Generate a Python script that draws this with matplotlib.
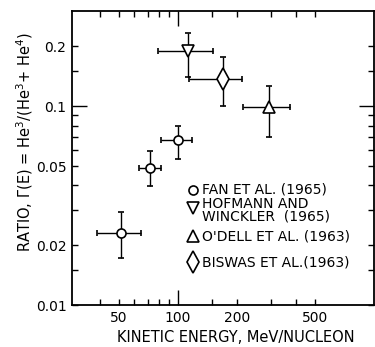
"""
He3/(He3+He4) ratio vs kinetic energy
"""

import matplotlib
matplotlib.use("Agg")
import matplotlib.pyplot as plt
from matplotlib.ticker import FixedLocator, FuncFormatter

# Fan et al. (1965) - circles
fan_e = [51, 72, 100]
fan_e_lo = [38.5, 63, 82]
fan_e_hi = [65, 82, 118]
fan_r = [0.023, 0.049, 0.068]
fan_r_lo = [0.0172, 0.0397, 0.0542]
fan_r_hi = [0.0293, 0.0594, 0.0794]

# Hofmann and Winckler (1965) - down triangle
hof_e = [112]
hof_e_lo = [79]
hof_e_hi = [151]
hof_r = [0.19]
hof_r_lo = [0.14]
hof_r_hi = [0.235]

# O'Dell et al. (1963) - up triangle
odl_e = [290]
odl_e_lo = [214]
odl_e_hi = [372]
odl_r = [0.099]
odl_r_lo = [0.07]
odl_r_hi = [0.127]

# Biswas et al. (1963) - diamond
bis_e = [170]
bis_e_lo = [114]
bis_e_hi = [212]
bis_r = [0.137]
bis_r_lo = [0.1]
bis_r_hi = [0.176]

leyenda = ["FAN ET AL. (1965)", "HOFMANN AND\nWINCKLER  (1965)",
           "O'DELL ET AL. (1963)", "BISWAS ET AL.(1963)"]

x_menores = [40, 50, 60, 70, 80, 90, 150, 200, 300, 400, 500]
x_etiquetas = [50, 200, 500]
y_menores = [0.01, 0.015, 0.02, 0.03, 0.04, 0.05, 0.06, 0.07, 0.08, 0.09, 0.15, 0.2]
y_etiquetas = [0.01, 0.02, 0.05, 0.2]

plt.rcParams['font.family'] = ['DejaVu Sans']

fig = plt.figure(figsize=(3.75, 3.47), dpi=100)
ax = fig.add_axes([0.192, 0.121, 0.805, 0.846])
ax.set_xscale('log')
ax.set_yscale('log')
ax.set_xlim(28.8, 1000)
ax.set_ylim(0.01, 0.3)


def dibujar(e, lo_e, hi_e, r, lo_r, hi_r, marcador, tam):
    xerr = [[a - b for a, b in zip(e, lo_e)], [b - a for a, b in zip(e, hi_e)]]
    yerr = [[a - b for a, b in zip(r, lo_r)], [b - a for a, b in zip(r, hi_r)]]
    ax.errorbar(e, r, xerr=xerr, yerr=yerr, fmt=marcador, ms=tam,
                mfc='white', mec='black', mew=1.2, ecolor='black',
                elinewidth=1.0, capsize=2.2, capthick=1.0, zorder=3)


dibujar(fan_e, fan_e_lo, fan_e_hi, fan_r, fan_r_lo, fan_r_hi, 'o', 6.5)
dibujar(hof_e, hof_e_lo, hof_e_hi, hof_r, hof_r_lo, hof_r_hi, 'v', 9)
dibujar(odl_e, odl_e_lo, odl_e_hi, odl_r, odl_r_lo, odl_r_hi, '^', 9)
dibujar(bis_e, bis_e_lo, bis_e_hi, bis_r, bis_r_lo, bis_r_hi, 'd', 11)

# Ejes y ticks
for s in ax.spines.values():
    s.set_linewidth(1.3)

ax.xaxis.set_major_locator(FixedLocator([100]))
ax.xaxis.set_minor_locator(FixedLocator(x_menores))
ax.xaxis.set_major_formatter(FuncFormatter(lambda v, p: '100'))
ax.xaxis.set_minor_formatter(
    FuncFormatter(lambda v, p: f'{v:g}' if round(v) in x_etiquetas else ''))

ax.yaxis.set_major_locator(FixedLocator([0.1]))
ax.yaxis.set_minor_locator(FixedLocator(y_menores))
ax.yaxis.set_major_formatter(FuncFormatter(lambda v, p: '0.1'))
ax.yaxis.set_minor_formatter(
    FuncFormatter(lambda v, p: f'{v:g}' if any(abs(v - t) < 1e-9 for t in y_etiquetas) else ''))

ax.tick_params(which='both', direction='in', top=True, right=True,
               width=1.0, labelsize=10, colors='black')
ax.tick_params(which='major', length=11, pad=4)
ax.tick_params(which='minor', length=4.5, pad=4)

ax.set_xlabel('KINETIC ENERGY, MeV/NUCLEON', fontsize=10.5)
ax.xaxis.set_label_coords(0.543, -0.086)
ax.set_ylabel(r'RATIO, $\Gamma$(E) = He$^3$/(He$^3$+ He$^4$)', fontsize=10.5)
ax.yaxis.set_label_coords(-0.122, 0.555)

# Leyenda manual
marcadores = ['o', 'v', '^', 'd']
tams = [6.5, 9, 9, 11]
y_txt = [190, 210, 236, 262]
y_mark = [190, 208, 236, 262]
for m, t, yt, ym, txt in zip(marcadores, tams, y_txt, y_mark, leyenda):
    ax.plot([193 / 375], [1 - ym / 347], marker=m, ms=t, mfc='white', mec='black',
            mew=1.2, transform=fig.transFigure, clip_on=False, linestyle='none')
    fig.text(202 / 375, 1 - yt / 347, txt, fontsize=10, va='center', ha='left',
             linespacing=0.9)

fig.savefig('out.png', dpi=100)
